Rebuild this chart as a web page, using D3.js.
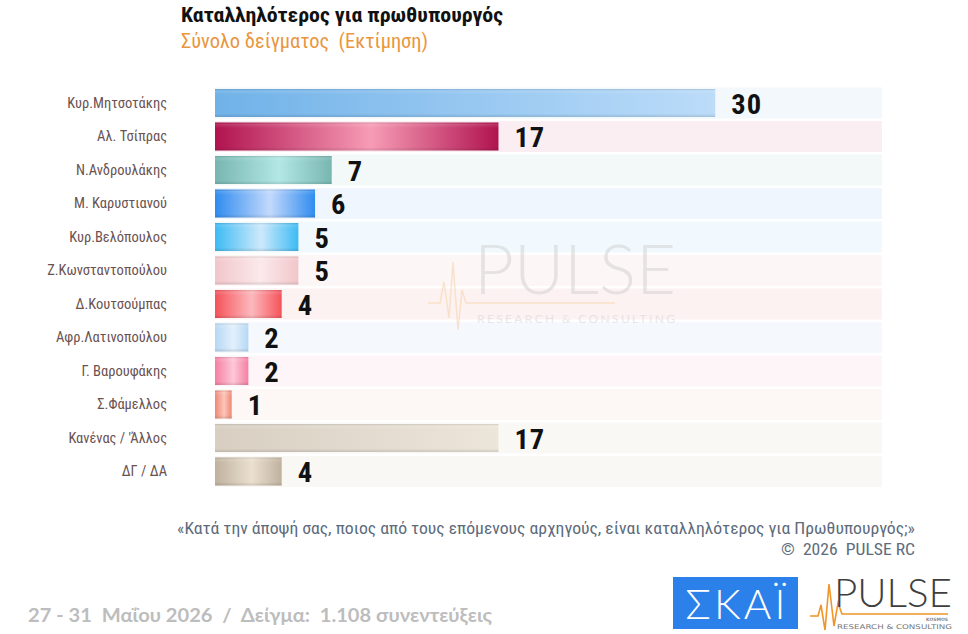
<!DOCTYPE html>
<html>
<head>
<meta charset="utf-8">
<script src="https://cdn.jsdelivr.net/npm/d3@7"></script>
<style>
  html, body { margin: 0; padding: 0; background: #ffffff; }
  svg { display: block; }
  text { white-space: pre; }
</style>
</head>
<body>
<svg id="chart" width="968" height="634"></svg>
<script>
// ---------- DATA ----------
const categories = [
  "Κυρ.Μητσοτάκης", "Αλ. Τσίπρας", "Ν.Ανδρουλάκης", "Μ. Καρυστιανού",
  "Κυρ.Βελόπουλος", "Ζ.Κωνσταντοπούλου", "Δ.Κουτσούμπας", "Αφρ.Λατινοπούλου",
  "Γ. Βαρουφάκης", "Σ.Φάμελλος", "Κανένας / 'Άλλος", "ΔΓ / ΔΑ"
];
const values = [30, 17, 7, 6, 5, 5, 4, 2, 2, 1, 17, 4];
const axisMax = 40;

const titleText = "Καταλληλότερος για πρωθυπουργός";
const subtitleText = "Σύνολο δείγματος  (Εκτίμηση)";
const questionText = "«Κατά την άποψή σας, ποιος από τους επόμενους αρχηγούς, είναι καταλληλότερος για Πρωθυπουργός;»";
const copyrightText = "©  2026  PULSE RC";
const footerText = "27 - 31  Μαΐου 2026  /  Δείγμα:  1.108 συνεντεύξεις";

// ---------- STYLES ----------
// [edge colour, centre highlight colour, track colour, gradient kind]
const barStyles = [
  ["#70b2e8", "#bcdcf9", "#f3f8fd", "ramp"],
  ["#b0134f", "#f79cb6", "#fbeef2", "mid"],
  ["#78b6b1", "#b2e7e6", "#f3f8f8", "mid"],
  ["#2f8cef", "#c3d9fc", "#f0f6fe", "mid"],
  ["#3dbbf4", "#cde9fb", "#f1f9fe", "mid"],
  ["#f1c6ca", "#fbe9eb", "#fdf6f6", "mid"],
  ["#f5525a", "#fcb9bd", "#fdf2f2", "mid"],
  ["#b6d8f4", "#e2f0fc", "#f5f9fe", "mid"],
  ["#f67ea4", "#fdc8d8", "#fdf5f7", "mid"],
  ["#ef8775", "#fcc6ba", "#fdf7f5", "mid"],
  ["#d8cfc2", "#ece5d9", "#faf8f5", "ramp"],
  ["#bfb19e", "#ebe0d0", "#faf8f5", "mid"]
];

const condensed = "'Roboto Condensed', 'Liberation Sans Narrow', Roboto, sans-serif";

const svg = d3.select("#chart");
const defs = svg.append("defs");

const x = d3.scaleLinear().domain([0, axisMax]).range([215, 882]);
const y = d3.scaleBand().domain(categories).range([86.25, 488.25]).padding(0);
const bw = y.bandwidth();

// gradients
barStyles.forEach((s, i) => {
  const g = defs.append("linearGradient").attr("id", "g" + i)
    .attr("x1", "0%").attr("x2", "100%").attr("y1", "0%").attr("y2", "0%");
  if (s[3] === "ramp") {
    g.append("stop").attr("offset", "0%").attr("stop-color", s[0]);
    g.append("stop").attr("offset", "100%").attr("stop-color", s[1]);
  } else {
    g.append("stop").attr("offset", "0%").attr("stop-color", s[0]);
    g.append("stop").attr("offset", "55%").attr("stop-color", s[1]);
    g.append("stop").attr("offset", "100%").attr("stop-color", s[0]);
  }
});
const vg = defs.append("linearGradient").attr("id", "vshade")
  .attr("x1", "0%").attr("x2", "0%").attr("y1", "0%").attr("y2", "100%");
vg.append("stop").attr("offset", "0%").attr("stop-color", "#000").attr("stop-opacity", 0.10);
vg.append("stop").attr("offset", "7%").attr("stop-color", "#fff").attr("stop-opacity", 0.12);
vg.append("stop").attr("offset", "20%").attr("stop-color", "#fff").attr("stop-opacity", 0.0);
vg.append("stop").attr("offset", "88%").attr("stop-color", "#000").attr("stop-opacity", 0.0);
vg.append("stop").attr("offset", "100%").attr("stop-color", "#000").attr("stop-opacity", 0.12);

// tracks
svg.append("g").selectAll("rect").data(categories).join("rect")
  .attr("x", x(0))
  .attr("y", d => y(d) + 1.2)
  .attr("width", x(axisMax) - x(0))
  .attr("height", bw - 2.4)
  .attr("fill", (d, i) => barStyles[i][2]);

// watermark
const wm = svg.append("g").attr("opacity", 0.5);
wm.append("path")
  .attr("d", "M428,303 L440,303 L444,282 L449,318 L453,262 L458,330 L462,290 L466,303 L615,303")
  .attr("fill", "none").attr("stroke", "#f7cfa0").attr("stroke-width", 1.5);
wm.append("text").attr("x", 474).attr("y", 294)
  .attr("font-family", "Lato, 'Open Sans', sans-serif").attr("font-weight", 300)
  .attr("font-size", 68).attr("fill", "#d0d0d0")
  .attr("textLength", 202).attr("lengthAdjust", "spacingAndGlyphs").text("PULSE");
wm.append("text").attr("x", 477).attr("y", 323)
  .attr("font-family", "Lato, 'Open Sans', sans-serif")
  .attr("font-size", 12).attr("fill", "#d4d4d4")
  .attr("textLength", 198).attr("lengthAdjust", "spacing").text("RESEARCH & CONSULTING");

// bars
const bars = svg.append("g");
bars.selectAll("rect.bar").data(values).join("rect").attr("class", "bar")
  .attr("x", x(0))
  .attr("y", (d, i) => y(categories[i]) + 2.75)
  .attr("width", d => x(d) - x(0))
  .attr("height", bw - 5.5)
  .attr("fill", (d, i) => `url(#g${i})`);
bars.selectAll("rect.shade").data(values).join("rect").attr("class", "shade")
  .attr("x", x(0))
  .attr("y", (d, i) => y(categories[i]) + 2.75)
  .attr("width", d => x(d) - x(0))
  .attr("height", bw - 5.5)
  .attr("fill", "url(#vshade)");

// value labels
svg.append("g").selectAll("text").data(values).join("text")
  .attr("x", d => x(d) + 16)
  .attr("y", (d, i) => y(categories[i]) + bw / 2 + 10.5)
  .attr("font-family", condensed)
  .attr("font-weight", 700)
  .attr("font-size", 28.5)
  .attr("letter-spacing", 1)
  .attr("fill", "#111111")
  .text(d => d);

// category labels (axis)
const yAxis = d3.axisLeft(y).tickSize(0).tickPadding(0);
const ax = svg.append("g").attr("transform", "translate(167,0)").call(yAxis);
ax.select(".domain").remove();
ax.selectAll("text")
  .attr("font-family", condensed)
  .attr("font-size", 14.5)
  .attr("fill", "#6a5252");

// title
svg.append("text").attr("x", 181).attr("y", 22)
  .attr("font-family", condensed)
  .attr("font-weight", 700).attr("font-size", 20).attr("fill", "#111")
  .attr("textLength", 322).attr("lengthAdjust", "spacingAndGlyphs")
  .text(titleText);
svg.append("text").attr("x", 181).attr("y", 48)
  .attr("font-family", condensed)
  .attr("font-size", 20).attr("fill", "#e9963d")
  .attr("textLength", 247).attr("lengthAdjust", "spacingAndGlyphs")
  .text(subtitleText);

// question + copyright
svg.append("text").attr("x", 915).attr("y", 534).attr("text-anchor", "end")
  .attr("font-family", condensed)
  .attr("font-size", 17).attr("fill", "#5d6b7b")
  .attr("textLength", 738).attr("lengthAdjust", "spacingAndGlyphs")
  .text(questionText);
svg.append("text").attr("x", 915).attr("y", 555).attr("text-anchor", "end")
  .attr("font-family", condensed)
  .attr("font-size", 17).attr("fill", "#5d6b7b")
  .attr("textLength", 134).attr("lengthAdjust", "spacingAndGlyphs")
  .text(copyrightText);

// footer
svg.append("text").attr("x", 28).attr("y", 622)
  .attr("font-family", "Lato, 'Open Sans', sans-serif")
  .attr("font-weight", 700).attr("font-size", 18).attr("fill", "#bdbdbd")
  .attr("textLength", 464).attr("lengthAdjust", "spacingAndGlyphs")
  .text(footerText);

// SKAI logo
svg.append("rect").attr("x", 673).attr("y", 577).attr("width", 125).attr("height", 52).attr("fill", "#2b80ea");
svg.append("text").attr("x", 735.5).attr("y", 619).attr("text-anchor", "middle")
  .attr("font-family", "Lato, 'DejaVu Sans', sans-serif").attr("font-weight", 300)
  .attr("font-size", 42).attr("fill", "#ffffff")
  .attr("textLength", 100).attr("lengthAdjust", "spacing")
  .text("ΣΚΑΪ");

// PULSE logo
const pl = svg.append("g");
pl.append("path")
  .attr("d", "M810,616 L818,616 L821,605 L825,630 L829,584 L834,626 L838,603 L842,614 L948,614")
  .attr("fill", "none").attr("stroke", "#f0952a").attr("stroke-width", 1.6);
pl.append("text").attr("x", 834).attr("y", 607)
  .attr("font-family", "Lato, 'Open Sans', sans-serif").attr("font-weight", 300)
  .attr("font-size", 39).attr("fill", "#3f3f3f")
  .attr("textLength", 118).attr("lengthAdjust", "spacingAndGlyphs").text("PULSE");
pl.append("text").attr("x", 948).attr("y", 620.5).attr("text-anchor", "end")
  .attr("font-family", "'DejaVu Sans', sans-serif").attr("font-weight", 700)
  .attr("font-size", 4.5).attr("fill", "#888").text("KOSMOS");
pl.append("text").attr("x", 837).attr("y", 628.5)
  .attr("font-family", "'DejaVu Sans', sans-serif")
  .attr("font-size", 6.5).attr("fill", "#777")
  .attr("textLength", 115).attr("lengthAdjust", "spacingAndGlyphs").text("RESEARCH & CONSULTING");
</script>
</body>
</html>
